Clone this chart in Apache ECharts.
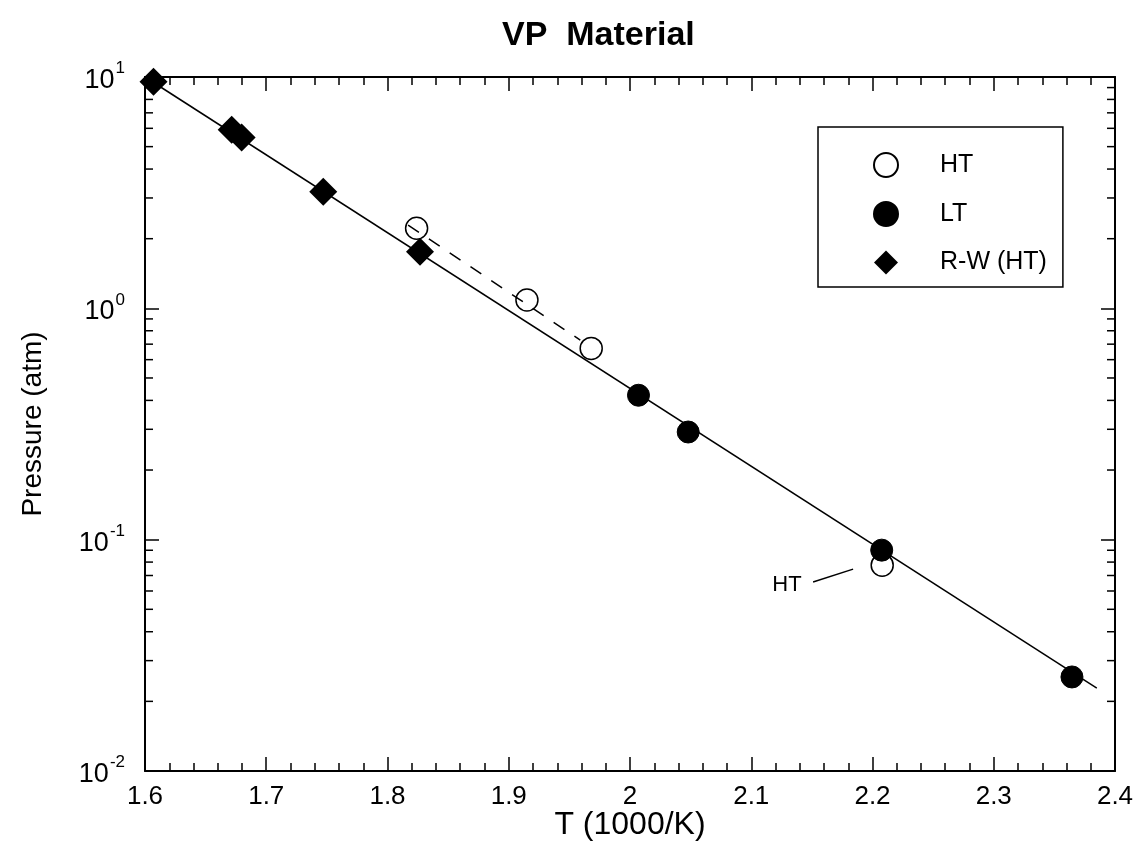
<!DOCTYPE html>
<html>
<head>
<meta charset="utf-8">
<script src="https://cdn.jsdelivr.net/npm/echarts@6/dist/echarts.min.js"></script>
<style>
html,body{margin:0;padding:0;background:#fff;}
#chart{width:1142px;height:849px;}
</style>
</head>
<body>
<div id="chart"></div>
<script>
// ---- data ----
const htData = [[1.824, 2.22], [1.915, 1.086], [1.968, 0.671], [2.208, 0.0776]];
const ltData = [[2.007, 0.421], [2.048, 0.292], [2.2076, 0.0901], [2.3645, 0.0255]];
const rwData = [[1.607, 9.55], [1.6715, 5.91], [1.6797, 5.48], [1.747, 3.19], [1.8268, 1.757]];
const fitLine = [[1.6, 10.0], [2.385, 0.0228]];
const htDashed = [[1.817, 2.29], [1.959, 0.729]];
const htPointer = [[2.151, 0.0656], [2.184, 0.0746]];
const htLabelPos = [[2.1295, 0.0637]];
const xTicks = [1.6, 1.7, 1.8, 1.9, 2.0, 2.1, 2.2, 2.3, 2.4];
const yMajorTicks = [0.01, 0.1, 1, 10];
const yMinorTicks = [0.02,0.03,0.04,0.05,0.06,0.07,0.08,0.09,
                     0.2,0.3,0.4,0.5,0.6,0.7,0.8,0.9,
                     2,3,4,5,6,7,8,9];

const FONT = 'Liberation Sans, Arial, Helvetica, sans-serif';
const xMin = xTicks[0], xMax = xTicks[xTicks.length - 1];
const yMin = yMajorTicks[0], yMax = yMajorTicks[yMajorTicks.length - 1];

const chart = echarts.init(document.getElementById('chart'), null, {renderer: 'canvas'});

const axisLineStyle = {color: '#000', width: 2};
const supFormatter = v => {
  const e = Math.round(Math.log10(v));
  return '{b|10}{s|' + e + '}';
};

const option = {
  backgroundColor: '#fff',
  animation: false,
  title: {
    text: 'VP  Material',
    left: 497, top: 14,
    textStyle: {fontFamily: FONT, fontSize: 34, fontWeight: 'bold', color: '#000'}
  },
  grid: {left: 145, right: 27, top: 77, bottom: 78, containLabel: false, outerBoundsMode: 'none'},
  legend: {
    data: ['HT', 'LT', 'R-W (HT)'],
    orient: 'vertical',
    left: 818, top: 127,
    padding: [25, 16, 12, 55],
    itemWidth: 24, itemHeight: 24,
    itemGap: 23,
    borderColor: '#000', borderWidth: 1.5, borderRadius: 0,
    backgroundColor: '#fff',
    textStyle: {fontFamily: FONT, fontSize: 25, color: '#000', padding: [0, 0, 0, 37]},
    selectedMode: false
  },
  xAxis: [{
    type: 'value', min: xMin, max: xMax, interval: 0.1,
    name: 'T (1000/K)', nameLocation: 'middle', nameGap: 38, nameMoveOverlap: false,
    nameTextStyle: {fontFamily: FONT, fontSize: 32, color: '#000'},
    axisLine: {show: true, lineStyle: axisLineStyle},
    axisTick: {show: true, inside: true, length: 14, lineStyle: {color: '#000', width: 1.5}},
    minorTick: {show: true, splitNumber: 5, length: 8, lineStyle: {color: '#000', width: 1.5}},
    axisLabel: {fontFamily: FONT, fontSize: 26, color: '#000', margin: 13},
    splitLine: {show: false}
  }, {
    type: 'value', min: xMin, max: xMax, interval: 0.1, position: 'top',
    axisLine: {show: true, onZero: false, lineStyle: axisLineStyle},
    axisTick: {show: true, inside: true, length: 14, lineStyle: {color: '#000', width: 1.5}},
    minorTick: {show: true, splitNumber: 5, length: 8, lineStyle: {color: '#000', width: 1.5}},
    axisLabel: {show: false},
    splitLine: {show: false}
  }],
  yAxis: [{
    type: 'log', logBase: 10, min: yMin, max: yMax,
    name: 'Pressure (atm)', nameLocation: 'middle', nameGap: 98, nameMoveOverlap: false,
    nameTextStyle: {fontFamily: FONT, fontSize: 28, color: '#000'},
    axisLine: {show: true, onZero: false, lineStyle: axisLineStyle},
    axisTick: {show: true, inside: true, length: 14, lineStyle: {color: '#000', width: 1.5}},
    axisLabel: {
      margin: 20, formatter: supFormatter,
      rich: {
        b: {fontFamily: FONT, fontSize: 27, color: '#000', lineHeight: 34, verticalAlign: 'bottom'},
        s: {fontFamily: FONT, fontSize: 17, color: '#000', lineHeight: 34, verticalAlign: 'top', padding: [0, 0, 0, 1]}
      }
    },
    splitLine: {show: false}
  }, {
    type: 'log', logBase: 10, min: yMin, max: yMax, position: 'right',
    axisLine: {show: true, onZero: false, lineStyle: axisLineStyle},
    axisTick: {show: true, inside: true, length: 14, lineStyle: {color: '#000', width: 1.5}},
    axisLabel: {show: false},
    splitLine: {show: false}
  }],
  series: [
    {
      name: 'yMinorTicks', type: 'custom', silent: true, z: 5,
      xAxisIndex: 0, yAxisIndex: 0,
      data: yMinorTicks.map(v => [xMin, v]),
      encode: {x: 0, y: 1},
      clip: false,
      renderItem: (params, api) => {
        const v = api.value(1);
        const pL = api.coord([xMin, v]);
        const pR = api.coord([xMax, v]);
        const st = {stroke: '#000', lineWidth: 1.5};
        return {type: 'group', children: [
          {type: 'line', shape: {x1: pL[0], y1: pL[1], x2: pL[0] + 8, y2: pL[1]}, style: st},
          {type: 'line', shape: {x1: pR[0] - 8, y1: pR[1], x2: pR[0], y2: pR[1]}, style: st}
        ]};
      }
    },
    {
      name: 'HT', type: 'scatter', data: htData, symbol: 'circle', symbolSize: 22, z: 3,
      itemStyle: {color: '#fff', borderColor: '#000', borderWidth: 1.5, opacity: 1}
    },
    {
      name: 'LT', type: 'scatter', data: ltData, symbol: 'circle', symbolSize: 22, z: 3,
      itemStyle: {color: '#000', borderColor: '#000', borderWidth: 1, opacity: 1}
    },
    {
      name: 'R-W (HT)', type: 'scatter', data: rwData, symbol: 'diamond', symbolSize: 28, z: 3,
      itemStyle: {color: '#000', opacity: 1}
    },
    {
      name: 'fit', type: 'line', data: fitLine, symbol: 'none', z: 4,
      lineStyle: {color: '#000', width: 1.5}
    },
    {
      name: 'htfit', type: 'line', data: htDashed, symbol: 'none', z: 4,
      lineStyle: {color: '#000', width: 1.5, type: [13, 12]}
    },
    {
      name: 'pointer', type: 'line', data: htPointer, symbol: 'none', z: 4,
      lineStyle: {color: '#000', width: 1.5}
    },
    {
      name: 'htLabel', type: 'scatter', data: htLabelPos, symbol: 'circle', symbolSize: 1, z: 4,
      itemStyle: {color: 'rgba(0,0,0,0)'},
      label: {show: true, position: 'inside', formatter: 'HT', opacity: 1,
        fontFamily: FONT, fontSize: 22, color: '#000', textBorderWidth: 0}
    }
  ]
};
chart.setOption(option);
</script>
</body>
</html>
